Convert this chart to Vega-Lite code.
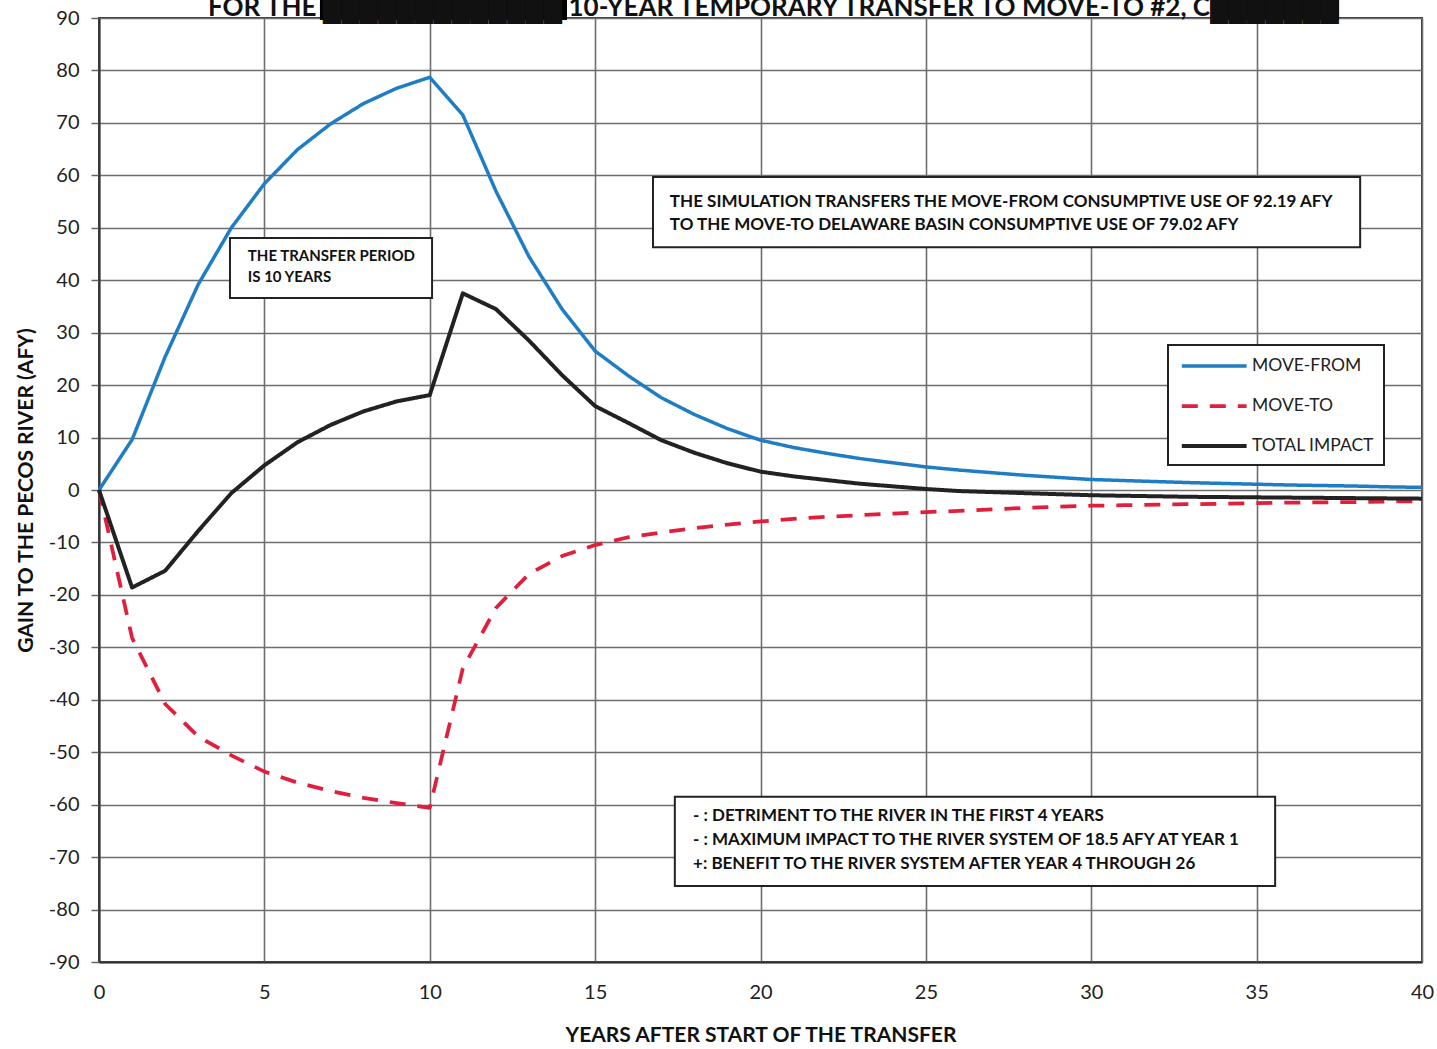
{
  "$schema": "https://vega.github.io/schema/vega-lite/v6.json",
  "width": 1323,
  "height": 944,
  "autosize": {"type": "none"},
  "padding": {"left": 99, "top": 18, "right": 15, "bottom": 87},
  "background": "white",
  "config": {"font": "Lato", "view": {"stroke": "#3a3a3a", "strokeWidth": 2}},
  "title": {
    "text": "FOR THE █████████████ 10-YEAR TEMPORARY TRANSFER TO MOVE-TO #2, C███████",
    "fontSize": 26, "fontWeight": "bold", "color": "#111", "offset": 0, "dy": 27, "anchor": "middle", "dx": 13
  },
  "layer": [
    {
      "data": {"values": [
        {"year": 0, "MOVE-FROM": 0, "MOVE-TO": 0, "TOTAL IMPACT": 0},
        {"year": 1, "MOVE-FROM": 9.6, "MOVE-TO": -28.2, "TOTAL IMPACT": -18.6},
        {"year": 2, "MOVE-FROM": 25.4, "MOVE-TO": -40.8, "TOTAL IMPACT": -15.4},
        {"year": 3, "MOVE-FROM": 39.2, "MOVE-TO": -47.0, "TOTAL IMPACT": -7.8},
        {"year": 4, "MOVE-FROM": 50.0, "MOVE-TO": -50.6, "TOTAL IMPACT": -0.6},
        {"year": 5, "MOVE-FROM": 58.4, "MOVE-TO": -53.7, "TOTAL IMPACT": 4.7},
        {"year": 6, "MOVE-FROM": 64.9, "MOVE-TO": -55.8, "TOTAL IMPACT": 9.1},
        {"year": 7, "MOVE-FROM": 69.8, "MOVE-TO": -57.4, "TOTAL IMPACT": 12.4},
        {"year": 8, "MOVE-FROM": 73.7, "MOVE-TO": -58.7, "TOTAL IMPACT": 15.0},
        {"year": 9, "MOVE-FROM": 76.6, "MOVE-TO": -59.7, "TOTAL IMPACT": 16.9},
        {"year": 10, "MOVE-FROM": 78.7, "MOVE-TO": -60.6, "TOTAL IMPACT": 18.1},
        {"year": 11, "MOVE-FROM": 71.5, "MOVE-TO": -34.0, "TOTAL IMPACT": 37.5},
        {"year": 12, "MOVE-FROM": 57.0, "MOVE-TO": -22.5, "TOTAL IMPACT": 34.5},
        {"year": 13, "MOVE-FROM": 44.5, "MOVE-TO": -16.0, "TOTAL IMPACT": 28.5},
        {"year": 14, "MOVE-FROM": 34.5, "MOVE-TO": -12.6, "TOTAL IMPACT": 21.9},
        {"year": 15, "MOVE-FROM": 26.5, "MOVE-TO": -10.5, "TOTAL IMPACT": 16.0},
        {"year": 16, "MOVE-FROM": 21.8, "MOVE-TO": -9.0, "TOTAL IMPACT": 12.8},
        {"year": 17, "MOVE-FROM": 17.6, "MOVE-TO": -8.1, "TOTAL IMPACT": 9.5},
        {"year": 18, "MOVE-FROM": 14.4, "MOVE-TO": -7.3, "TOTAL IMPACT": 7.1},
        {"year": 19, "MOVE-FROM": 11.7, "MOVE-TO": -6.6, "TOTAL IMPACT": 5.1},
        {"year": 20, "MOVE-FROM": 9.5, "MOVE-TO": -6.0, "TOTAL IMPACT": 3.5},
        {"year": 21, "MOVE-FROM": 8.1, "MOVE-TO": -5.5, "TOTAL IMPACT": 2.6},
        {"year": 22, "MOVE-FROM": 7.0, "MOVE-TO": -5.1, "TOTAL IMPACT": 1.9},
        {"year": 23, "MOVE-FROM": 6.0, "MOVE-TO": -4.8, "TOTAL IMPACT": 1.2},
        {"year": 24, "MOVE-FROM": 5.2, "MOVE-TO": -4.5, "TOTAL IMPACT": 0.7},
        {"year": 25, "MOVE-FROM": 4.4, "MOVE-TO": -4.2, "TOTAL IMPACT": 0.2},
        {"year": 26, "MOVE-FROM": 3.8, "MOVE-TO": -4.0, "TOTAL IMPACT": -0.2},
        {"year": 27, "MOVE-FROM": 3.3, "MOVE-TO": -3.7, "TOTAL IMPACT": -0.4},
        {"year": 28, "MOVE-FROM": 2.8, "MOVE-TO": -3.4, "TOTAL IMPACT": -0.6},
        {"year": 29, "MOVE-FROM": 2.4, "MOVE-TO": -3.2, "TOTAL IMPACT": -0.8},
        {"year": 30, "MOVE-FROM": 2.0, "MOVE-TO": -3.0, "TOTAL IMPACT": -1.0},
        {"year": 31, "MOVE-FROM": 1.8, "MOVE-TO": -2.9, "TOTAL IMPACT": -1.1},
        {"year": 32, "MOVE-FROM": 1.6, "MOVE-TO": -2.8, "TOTAL IMPACT": -1.2},
        {"year": 33, "MOVE-FROM": 1.4, "MOVE-TO": -2.7, "TOTAL IMPACT": -1.3},
        {"year": 34, "MOVE-FROM": 1.25, "MOVE-TO": -2.6, "TOTAL IMPACT": -1.35},
        {"year": 35, "MOVE-FROM": 1.1, "MOVE-TO": -2.5, "TOTAL IMPACT": -1.4},
        {"year": 36, "MOVE-FROM": 0.95, "MOVE-TO": -2.4, "TOTAL IMPACT": -1.45},
        {"year": 37, "MOVE-FROM": 0.85, "MOVE-TO": -2.35, "TOTAL IMPACT": -1.5},
        {"year": 38, "MOVE-FROM": 0.75, "MOVE-TO": -2.3, "TOTAL IMPACT": -1.55},
        {"year": 39, "MOVE-FROM": 0.6, "MOVE-TO": -2.2, "TOTAL IMPACT": -1.6},
        {"year": 40, "MOVE-FROM": 0.5, "MOVE-TO": -2.15, "TOTAL IMPACT": -1.65}
      ]},
      "transform": [{"fold": ["MOVE-FROM", "MOVE-TO", "TOTAL IMPACT"], "as": ["series", "value"]}],
      "mark": {"type": "line", "strokeCap": "butt", "strokeJoin": "round"},
      "encoding": {
        "x": {
          "field": "year", "type": "quantitative",
          "scale": {"domain": [0, 40], "nice": false},
          "axis": {
            "values": [0, 5, 10, 15, 20, 25, 30, 35, 40],
            "title": "YEARS AFTER START OF THE TRANSFER",
            "titleFontSize": 21, "titleFontWeight": "bold", "titleColor": "#111", "titlePadding": 22,
            "labelFontSize": 20, "labelColor": "#222", "labelPadding": 20, "labelFlush": false,
            "ticks": false, "grid": true, "gridColor": "#6e6e6e", "gridWidth": 1.6,
            "domainColor": "#333", "domainWidth": 2
          }
        },
        "y": {
          "field": "value", "type": "quantitative",
          "scale": {"domain": [-90, 90], "nice": false},
          "axis": {
            "values": [-90, -80, -70, -60, -50, -40, -30, -20, -10, 0, 10, 20, 30, 40, 50, 60, 70, 80, 90],
            "labelExpr": "toString(datum.value)",
            "title": "GAIN TO THE PECOS RIVER (AFY)",
            "titleFontSize": 21, "titleFontWeight": "bold", "titleColor": "#111", "titlePadding": 12,
            "labelFontSize": 20, "labelColor": "#222", "labelPadding": 12,
            "ticks": true, "tickSize": 8, "tickColor": "#666", "tickWidth": 1.5,
            "grid": true, "gridColor": "#6e6e6e", "gridWidth": 1.6,
            "domainColor": "#333", "domainWidth": 2
          }
        },
        "color": {
          "field": "series", "type": "nominal",
          "scale": {"domain": ["MOVE-FROM", "MOVE-TO", "TOTAL IMPACT"], "range": ["#1f7dc4", "#e01f3d", "#222222"]},
          "legend": {
            "title": null, "orient": "none", "legendX": 1069, "legendY": 327,
            "labelFontSize": 17.5, "labelColor": "#222", "labelOffset": 52,
            "symbolType": "M-0.8,0H6.4", "symbolSize": 324,
            "padding": 10, "rowPadding": 20,
            "strokeColor": "#222", "fillColor": "white",
            "encode": {"legend": {"update": {"strokeWidth": {"value": 2}}}}
          }
        },
        "strokeDash": {
          "field": "series", "type": "nominal",
          "scale": {"domain": ["MOVE-FROM", "MOVE-TO", "TOTAL IMPACT"], "range": [[1, 0], [16, 12], [1, 0]]}
        },
        "strokeWidth": {
          "field": "series", "type": "nominal",
          "scale": {"domain": ["MOVE-FROM", "MOVE-TO", "TOTAL IMPACT"], "range": [3.5, 4, 6.5]}
        }
      }
    },
    {
      "data": {"values": [{}]},
      "mark": {"type": "rect", "fill": "black", "clip": false},
      "encoding": {
        "x": {"datum": 6.68, "type": "quantitative"}, "x2": {"datum": 14.15},
        "y": {"datum": 94.5, "type": "quantitative"}, "y2": {"datum": 89.6}
      }
    },
    {
      "data": {"values": [{}]},
      "mark": {"type": "rect", "fill": "black", "clip": false},
      "encoding": {
        "x": {"datum": 33.7, "type": "quantitative"}, "x2": {"datum": 37.49},
        "y": {"datum": 94.5, "type": "quantitative"}, "y2": {"datum": 89.6}
      }
    },
    {
      "data": {"values": [{}]},
      "mark": {"type": "rect", "fill": "white", "stroke": "#222", "strokeWidth": 2},
      "encoding": {
        "x": {"datum": 3.96, "type": "quantitative"}, "x2": {"datum": 10.07},
        "y": {"datum": 48.05, "type": "quantitative"}, "y2": {"datum": 36.6}
      }
    },
    {
      "data": {"values": [{}]},
      "mark": {"type": "text", "align": "left", "baseline": "top", "fontSize": 15, "fontWeight": "bold", "lineHeight": 21, "color": "#111"},
      "encoding": {
        "x": {"datum": 4.5, "type": "quantitative"},
        "y": {"datum": 45.9, "type": "quantitative"},
        "text": {"value": ["THE TRANSFER PERIOD", "IS 10 YEARS"]}
      }
    },
    {
      "data": {"values": [{}]},
      "mark": {"type": "rect", "fill": "white", "stroke": "#222", "strokeWidth": 2},
      "encoding": {
        "x": {"datum": 16.75, "type": "quantitative"}, "x2": {"datum": 38.13},
        "y": {"datum": 59.7, "type": "quantitative"}, "y2": {"datum": 46.3}
      }
    },
    {
      "data": {"values": [{}]},
      "mark": {"type": "text", "align": "left", "baseline": "top", "fontSize": 17, "fontWeight": "bold", "lineHeight": 23, "color": "#111"},
      "encoding": {
        "x": {"datum": 17.26, "type": "quantitative"},
        "y": {"datum": 56.4, "type": "quantitative"},
        "text": {"value": ["THE SIMULATION TRANSFERS THE MOVE-FROM CONSUMPTIVE USE OF 92.19 AFY", "TO THE MOVE-TO DELAWARE BASIN CONSUMPTIVE USE OF 79.02 AFY"]}
      }
    },
    {
      "data": {"values": [{}]},
      "mark": {"type": "rect", "fill": "white", "stroke": "#222", "strokeWidth": 2},
      "encoding": {
        "x": {"datum": 17.41, "type": "quantitative"}, "x2": {"datum": 35.56},
        "y": {"datum": -58.5, "type": "quantitative"}, "y2": {"datum": -75.5}
      }
    },
    {
      "data": {"values": [{}]},
      "mark": {"type": "text", "align": "left", "baseline": "top", "fontSize": 17, "fontWeight": "bold", "lineHeight": 24, "color": "#111"},
      "encoding": {
        "x": {"datum": 17.96, "type": "quantitative"},
        "y": {"datum": -60.6, "type": "quantitative"},
        "text": {"value": ["- : DETRIMENT TO THE RIVER IN THE FIRST 4 YEARS", "- : MAXIMUM IMPACT TO THE RIVER SYSTEM OF 18.5 AFY AT YEAR 1", "+: BENEFIT TO THE RIVER SYSTEM AFTER YEAR 4 THROUGH 26"]}
      }
    }
  ]
}
